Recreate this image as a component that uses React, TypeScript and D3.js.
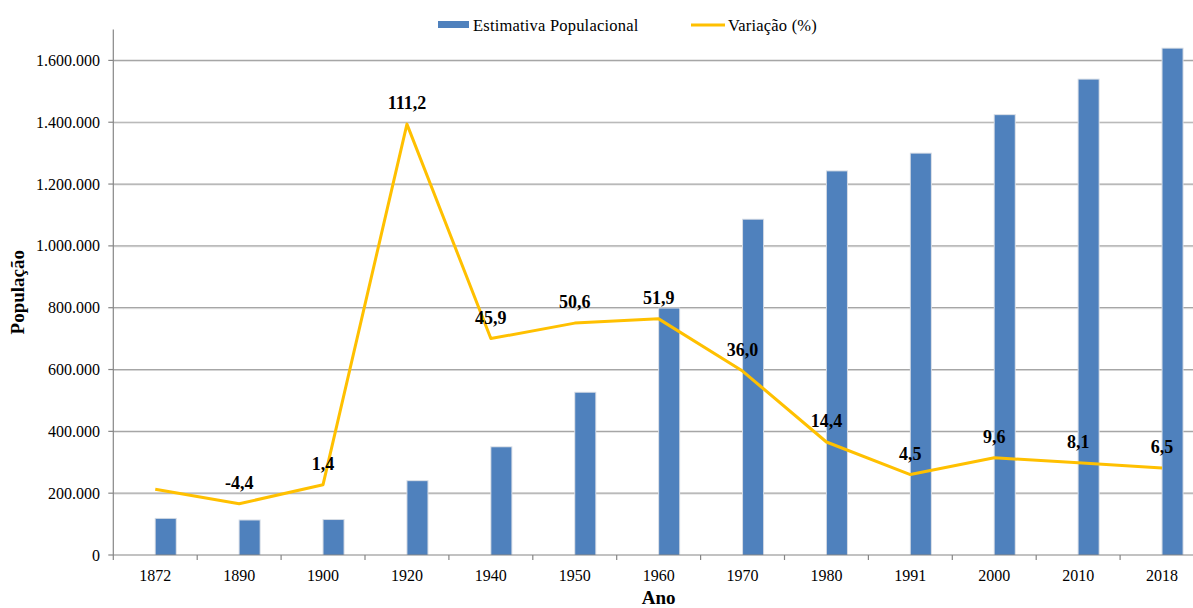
import React from "react";
import * as d3 from "d3";

// Census years and estimated population
const years = ["1872", "1890", "1900", "1920", "1940", "1950", "1960", "1970", "1980", "1991", "2000", "2010", "2018"];
const population = [116671, 111556, 113106, 238843, 348424, 524682, 797234, 1084459, 1240937, 1298229, 1422905, 1537704, 1637834];
// Percentage change from the previous census
const variation = [0, -4.4, 1.4, 111.2, 45.9, 50.6, 51.9, 36.0, 14.4, 4.5, 9.6, 8.1, 6.5];
const variationLabels = ["", "-4,4", "1,4", "111,2", "45,9", "50,6", "51,9", "36,0", "14,4", "4,5", "9,6", "8,1", "6,5"];
const popTicks = [0, 200000, 400000, 600000, 800000, 1000000, 1200000, 1400000, 1600000];

const W = 1193;
const H = 608;
const left = 113.3;
const right = 1204;
const top = 29.5;
const bottom = 555;

const fmt = (v: number) => d3.format(",")(v).replace(/,/g, ".");

export default function App() {
  const x = d3.scaleBand<string>().domain(years).range([left, right]).padding(0);
  const y = d3.scaleLinear().domain([0, 1700000]).range([bottom, top]);
  const y2 = d3.scaleLinear().domain([-20, 140]).range([bottom, top]);
  const cx = (d: string) => (x(d) as number) + x.bandwidth() / 2;

  const line = d3
    .line<number>()
    .x((_, i) => cx(years[i]))
    .y((v) => y2(v));

  const serif = '"Liberation Serif", "Times New Roman", "DejaVu Serif", serif';
  const barW = 20;

  return (
    <svg
      width={W}
      height={H}
      style={{ position: "absolute", left: 0, top: 0, background: "#fff", fontFamily: serif }}
    >
      <rect x={0} y={0} width={W} height={H} fill="#fff" />

      {/* legend */}
      <g>
        <rect x={438} y={21} width={31} height={7} fill="#4F81BD" />
        <text x={473} y={30.5} fontSize={16.5} fill="#000" letterSpacing={0.2} style={{ fontFamily: serif }}>
          Estimativa Populacional
        </text>
        <line x1={691} x2={725} y1={25} y2={25} stroke="#FFC000" strokeWidth={3} />
        <text x={728} y={30.5} fontSize={16.5} fill="#000" letterSpacing={0.2} style={{ fontFamily: serif }}>
          Variação (%)
        </text>
      </g>

      {/* horizontal gridlines */}
      {popTicks.slice(1).map((t) => (
        <g key={"g" + t}>
          <line x1={left} x2={right} y1={y(t) + 1} y2={y(t) + 1} stroke="#e3e3e3" strokeWidth={1} />
          <line x1={left} x2={right} y1={y(t)} y2={y(t)} stroke="#a6a6a6" strokeWidth={1.2} />
        </g>
      ))}

      {/* y axis */}
      <line x1={left} x2={left} y1={top} y2={bottom} stroke="#868686" strokeWidth={1.2} />
      {popTicks.map((t) => (
        <g key={"t" + t}>
          <line x1={left - 5} x2={left} y1={y(t)} y2={y(t)} stroke="#868686" strokeWidth={1.2} />
          <text x={100} y={y(t) + 5.5} textAnchor="end" fontSize={16} fill="#000" style={{ fontFamily: serif }}>
            {fmt(t)}
          </text>
        </g>
      ))}
      <text
        transform={`translate(24, ${(top + bottom) / 2}) rotate(-90)`}
        textAnchor="middle"
        fontSize={19}
        fontWeight="bold"
        fill="#000"
        style={{ fontFamily: serif }}
      >
        População
      </text>

      {/* bars */}
      {years.map((yr, i) => {
        const bx = cx(yr) + 0.5;
        const by = y(population[i]);
        return (
          <g key={"b" + yr}>
            <rect x={bx - 1} y={by - 1} width={barW + 2} height={bottom - by + 1} fill="#d3dae4" />
            <rect x={bx} y={by} width={barW} height={bottom - by} fill="#4F81BD" />
          </g>
        );
      })}

      {/* x axis */}
      <line x1={left} x2={right} y1={bottom} y2={bottom} stroke="#868686" strokeWidth={1.2} />
      {years.map((yr) => (
        <line
          key={"xt" + yr}
          x1={x(yr) as number}
          x2={x(yr) as number}
          y1={bottom}
          y2={bottom + 5}
          stroke="#868686"
          strokeWidth={1.2}
        />
      ))}
      {years.map((yr) => (
        <text key={"xl" + yr} x={cx(yr)} y={581} textAnchor="middle" fontSize={16} fill="#000" style={{ fontFamily: serif }}>
          {yr}
        </text>
      ))}
      <text
        x={(left + right) / 2}
        y={604}
        textAnchor="middle"
        fontSize={19}
        fontWeight="bold"
        fill="#000"
        style={{ fontFamily: serif }}
      >
        Ano
      </text>

      {/* variation line */}
      <path d={line(variation) ?? ""} fill="none" stroke="#FFC000" strokeWidth={3} strokeLinejoin="round" />
      {years.map((yr, i) =>
        variationLabels[i] ? (
          <text
            key={"vl" + yr}
            x={cx(yr)}
            y={y2(variation[i]) - 15}
            textAnchor="middle"
            fontSize={18}
            fontWeight="bold"
            fill="#000"
            style={{ fontFamily: serif }}
          >
            {variationLabels[i]}
          </text>
        ) : null
      )}
    </svg>
  );
}
